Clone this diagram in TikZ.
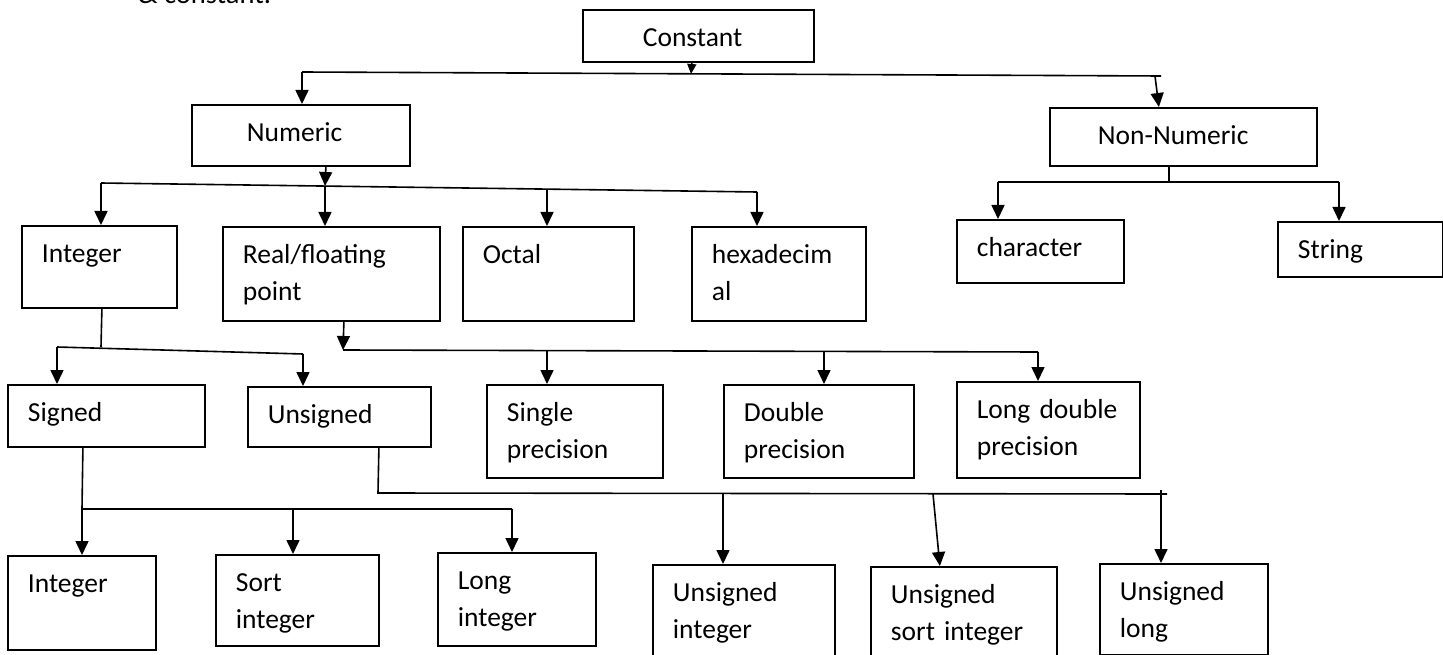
\documentclass[tikz,border=0pt]{standalone}
\usepackage{fontspec}
\setmainfont{Carlito}
\usetikzlibrary{arrows.meta}
\tikzstyle{box} = [draw, line width=1.8pt, anchor=north west, inner xsep=20pt, inner ysep=0pt, text height=37pt, align=left, font=\fontsize{27.5}{37}\selectfont]
\tikzstyle{conn} = [-, line width=1.6pt]
\tikzstyle{arr} = [-{Triangle[length=14pt, width=13pt]}, line width=1.6pt]
\tikzstyle{smallarr} = [-{Triangle[length=10pt, width=9pt]}, line width=1.6pt]

\begin{document}
\begin{tikzpicture}[x=1pt, y=-1pt]
\useasboundingbox (0,0) rectangle (1443,655);
%\node [anchor=base west] at (138,4) {heading above the chart};
\node [anchor=base west, inner sep=0pt, font=\fontsize{28.5}{34}\selectfont] (ttl) at (138,4) {\& constant.};
% top
\node [box, inner xsep=60pt, text width=111pt, text depth=15pt] (cnst) at (582,9) {Constant};
\node [box, inner xsep=55pt, text width=108pt, text depth=24pt] (num) at (191,104) {Numeric};
\node [box, inner xsep=48pt, text width=171pt, text depth=21pt] (nnum) at (1049,107) {Non-Numeric};
% second row
\node [box, text width=115pt, text depth=45pt] (int) at (21,225) {Integer};
\node [box, text width=177pt, text depth=57pt] (real) at (222,226) {Real/floating\\point};
\node [box, text width=131pt, text depth=57pt] (oct) at (462,226) {Octal};
\node [box, text width=134pt, text depth=57pt] (hex) at (691,226) {hexadecim\\al};
\node [box, text width=127pt, text depth=26pt] (chr) at (956,219) {character};
\node [box, text width=125pt, text depth=18pt] (str) at (1277,221) {String};
% third row
\node [box, text width=157pt, text depth=25pt] (sgn) at (7,384) {Signed};
\node [box, text width=143pt, text depth=23pt] (usg) at (247,386) {Unsigned};
\node [box, text width=136pt, text depth=56pt] (sgl) at (486,384) {Single\\precision};
\node [box, text width=150pt, text depth=56pt] (dbl) at (723,384) {Double\\precision};
\node [box, text width=143pt, text depth=59pt] (ldbl) at (956,381) {Long double\\precision};
% bottom row
\node [box, text width=108pt, text depth=57pt] (bint) at (7,555) {Integer};
\node [box, text width=123pt, text depth=54pt] (sint) at (215,554) {Sort\\integer};
\node [box, text width=118pt, text depth=56pt] (lint) at (437,552) {Long\\integer};
\node [box, text width=142pt, text depth=63pt] (uint) at (652,564) {Unsigned\\integer};
\node [box, text width=146pt, text depth=63pt] (usint) at (870,566) {Unsigned\\sort integer};
\node [box, text width=128pt, text depth=54pt] (ulng) at (1099,563) {Unsigned\\long};

% Constant -> Numeric / Non-Numeric
\coordinate (c0a) at (302,72);
\coordinate (c0b) at (1161,76);
\coordinate (c0c) at (1155,76);
\coordinate (c0m) at (691,74);
\draw [conn] (c0a) -- (c0b);
\draw [smallarr] ([xshift=-6.5pt]cnst.south) -- (c0m);
\draw [arr] (c0a) -- (c0a |- num.north);
\draw [arr] (c0c) -- ([xshift=-24.5pt]nnum.north);

% Numeric -> Integer, Real, Octal, hexadecimal
\coordinate (c1a) at (101,183);
\coordinate (c1b) at (757,192);
\coordinate (c1n) at (325,186);
\coordinate (c1o) at (547,190);
\draw [conn] (c1a) -- (c1b);
\draw [arr] ([xshift=25pt]num.south) -- (c1n);
\draw [arr] (c1a) -- (c1a |- int.north);
\draw [arr] (c1n) -- (c1n |- real.north);
\draw [arr] (c1o) -- (c1o |- oct.north);
\draw [arr] (c1b) -- (c1b |- hex.north);

% Non-Numeric -> character, String
\coordinate (c1d) at (998,182);
\coordinate (c1e) at (1339,182);
\draw [conn] ([xshift=-14.5pt]nnum.south) -- ([xshift=-14.5pt]nnum.south |- c1d);
\draw [conn] (c1d) -- (c1e);
\draw [arr] (c1d) -- (c1d |- chr.north);
\draw [arr] (c1e) -- (c1e |- str.north);

% Integer -> Signed, Unsigned
\coordinate (c2j) at (101,347);
\coordinate (c2a) at (57,347);
\coordinate (c2b) at (303,354);
\draw [conn] ([xshift=2.5pt]int.south) -- (c2j);
\draw [conn] (c2a) -- (c2b);
\draw [arr] (c2a) -- (c2a |- sgn.north);
\draw [arr] (c2b) -- (c2b |- usg.north);

% Real -> Single, Double, Long double
\coordinate (c3a) at (343,350);
\coordinate (c3b) at (1038,352);
\coordinate (c3s) at (547,351);
\coordinate (c3d) at (824,351);
\draw [arr] ([xshift=12.5pt]real.south) -- (c3a);
\draw [conn] (c3a) -- (c3b);
\draw [arr] (c3s) -- (c3s |- sgl.north);
\draw [arr] (c3d) -- (c3d |- dbl.north);
\draw [arr] (c3b) -- (c3b |- ldbl.north);

% Signed -> Integer, Sort integer, Long integer
\coordinate (c4a) at (82,509);
\coordinate (c4b) at (512,509);
\coordinate (c4m) at (293,509);
\draw [conn] ([xshift=-23.5pt]sgn.south) -- (c4a) -- (c4b);
\draw [arr] (c4a) -- (c4a |- bint.north);
\draw [arr] (c4m) -- (c4m |- sint.north);
\draw [arr] (c4b) -- (c4b |- lint.north);

% Unsigned -> Unsigned integer, Unsigned sort integer, Unsigned long
\coordinate (c5a) at (378,493);
\coordinate (c5b) at (1167,494);
\coordinate (c5i) at (723,493);
\coordinate (c5s) at (933,494);
\coordinate (c5l) at (1161,490);
\draw [conn] ([xshift=39.5pt]usg.south) -- (c5a) -- (c5b);
\draw [arr] (c5i) -- (c5i |- uint.north);
\draw [arr] (c5s) -- ([xshift=-24pt]usint.north);
\draw [arr] (c5l) -- (c5l |- ulng.north);
\end{tikzpicture}
\end{document}
